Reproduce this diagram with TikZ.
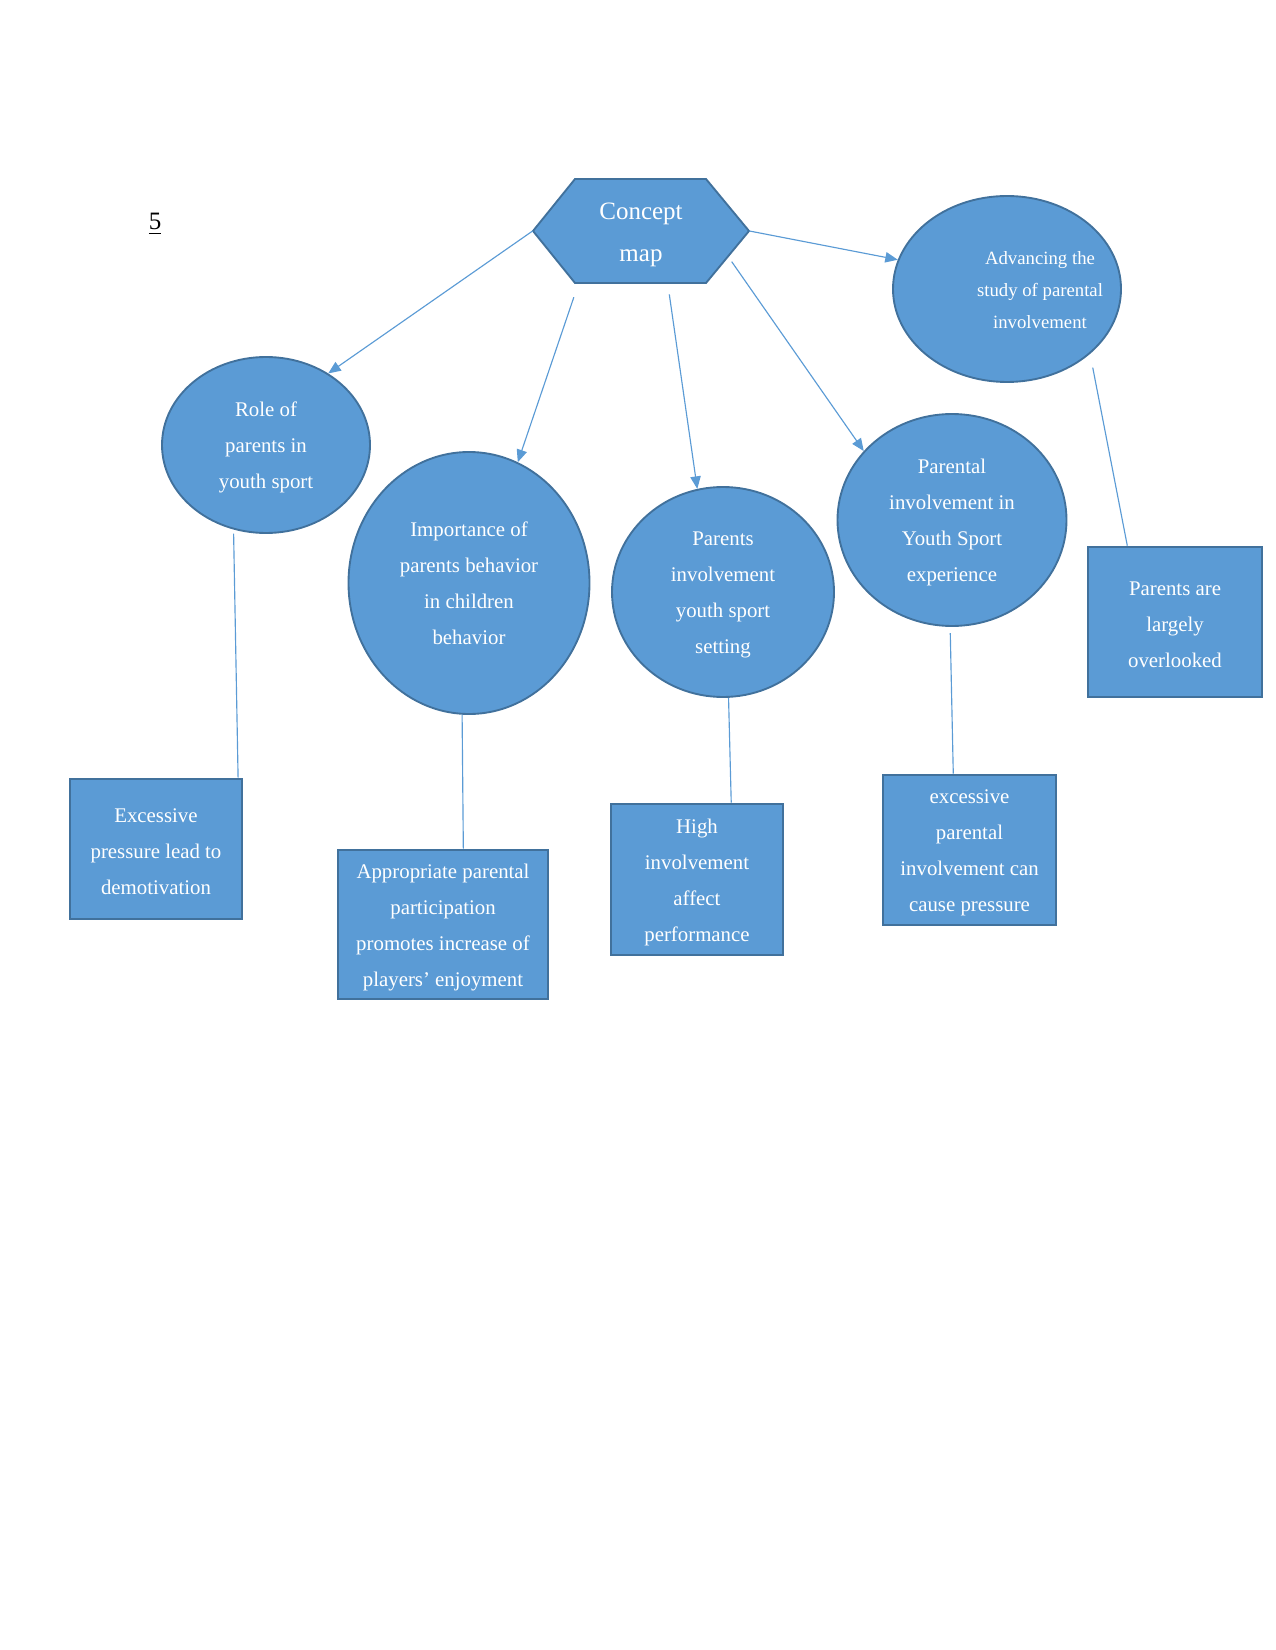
\documentclass[tikz,border=0pt]{standalone}
\usepackage{fontspec}
\setmainfont{Liberation Serif}
\usetikzlibrary{arrows.meta,shapes.geometric}
\definecolor{cmfill}{HTML}{5B9BD5}
\definecolor{cmline}{HTML}{41719C}
\newcommand\cmstrut[1][9.5pt]{\rule{0pt}{#1}}
\tikzset{
  bubble/.style={ellipse,draw=cmline,fill=cmfill,line width=0.9pt,text=white,inner sep=0pt,align=center,font=\fontsize{10}{17.3}\selectfont},
  card/.style={rectangle,draw=cmline,fill=cmfill,line width=1.3pt,text=white,inner sep=0pt,align=center,font=\fontsize{10}{17.3}\selectfont},
  link/.style={cmfill,line width=0.55pt}
}
\begin{document}
\begin{tikzpicture}[x=0.48pt,y=-0.48pt,>={Triangle[length=6pt,width=5pt]}]
\useasboundingbox (0,0) rectangle (1275,1650);
\node[font=\fontsize{12}{14}\selectfont] (pageno) at (155,224) {\underline{5}};
\filldraw[cmfill,draw=cmline,line width=0.9pt] (533,231)--(575,179)--(706,179)--(749,231)--(706,283)--(575,283)--cycle;
\node[text=white,align=center,font=\fontsize{12}{20.2}\selectfont,minimum width=216*0.48pt,minimum height=104*0.48pt] (concept) at (641,231) {\cmstrut[12pt]Concept\\map};
\node[bubble,minimum width=208*0.48pt,minimum height=176*0.48pt] (role) at (266,445) {\cmstrut Role of\\parents in\\youth sport};
\node[bubble,minimum width=241*0.48pt,minimum height=262*0.48pt] (importance) at (469,583) {Importance of\\parents behavior\\in children\\behavior};
\node[bubble,minimum width=222*0.48pt,minimum height=210*0.48pt] (setting) at (723,592) {\cmstrut Parents\\involvement\\youth sport\\setting};
\node[bubble,minimum width=229*0.48pt,minimum height=212*0.48pt] (experience) at (952,520) {\cmstrut Parental\\involvement in\\Youth Sport\\experience};
\node[bubble,minimum width=228*0.48pt,minimum height=186*0.48pt] (advancing) at (1007,289) {};
\node[text=white,align=center,font=\fontsize{9}{15.2}\selectfont] (advtext) at (1040,290) {Advancing the\\study of parental\\involvement};
\node[card,minimum width=172*0.48pt,minimum height=140*0.48pt] (pressure) at (156,849) {\cmstrut Excessive\\pressure lead to\\demotivation};
\node[card,minimum width=210*0.48pt,minimum height=149*0.48pt] (enjoyment) at (443,924.5) {\cmstrut Appropriate parental\\participation\\promotes increase of\\players’ enjoyment};
\node[card,minimum width=172*0.48pt,minimum height=151*0.48pt] (performance) at (697,879.5) {\cmstrut High\\involvement\\affect\\performance};
\node[card,minimum width=173*0.48pt,minimum height=150*0.48pt] (pressurecause) at (969.5,850) {\cmstrut excessive\\parental\\involvement can\\cause pressure};
\node[card,minimum width=174*0.48pt,minimum height=150*0.48pt] (overlooked) at (1175,622) {\cmstrut Parents are\\largely\\overlooked};
\draw[link,->] (concept.west) -- (role.49);
\draw[link,->,shorten <=7pt] (concept.220) -- (importance.68.4);
\draw[link,->,shorten <=5.3pt] (concept.-63) -- (setting.104.8);
\draw[link,->,shorten <=48.6pt] (concept.58.4) -- (experience.142.1);
\draw[link,->] (concept.east) -- (advancing.165.8);
\draw[link,shorten <=2pt] (role.-111.7) -- (pressure.41.6);
\draw[link] (importance.-93) -- (enjoyment.75);
\draw[link] (setting.-87.2) -- (performance.66.4);
\draw[link,shorten <=3pt] (experience.-91) -- (pressurecause.102.4);
\draw[link,shorten <=6.7pt] (advancing.-38.8) -- (overlooked.122.7);
\end{tikzpicture}
\end{document}
